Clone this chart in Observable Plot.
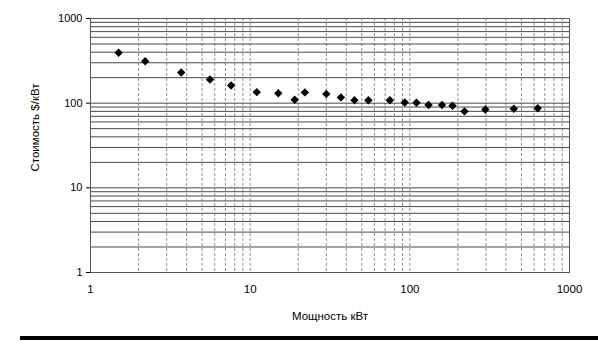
<!DOCTYPE html>
<html>
<head>
<meta charset="utf-8">
<script src="https://cdn.jsdelivr.net/npm/d3@7"></script>
<script src="https://cdn.jsdelivr.net/npm/@observablehq/plot@0.6"></script>
<style>
  html, body { margin: 0; padding: 0; background: #fff; }
  #wrap { position: relative; width: 598px; height: 363px; }
  #bar { position: absolute; left: 20px; right: 0; top: 336px; height: 4px; background: #000; }
</style>
</head>
<body>
<div id="wrap"><div id="bar"></div></div>
<script>
const power = [1.5, 2.2, 3.7, 5.6, 7.6, 11, 15, 19, 22, 30, 37, 45, 55, 75, 93, 110, 131, 159, 185, 220, 297, 448, 632];
const cost  = [393, 313, 230, 190, 162, 135, 131, 110, 134, 128, 117, 108, 108, 108, 102, 101, 95, 95, 93, 80, 84, 86, 87];
const majorTicks = [1, 10, 100, 1000];
const gridLines = [1,2,3,4,5,6,7,8,9,10,20,30,40,50,60,70,80,90,100,200,300,400,500,600,700,800,900,1000];
const xTitle = "Мощность кВт";
const yTitle = "Стоимость $/кВт";

const data = power.map((p, i) => ({power: p, cost: cost[i]}));

const chart = Plot.plot({
  width: 598,
  height: 363,
  marginLeft: 90,
  marginRight: 29,
  marginTop: 18,
  marginBottom: 91,
  style: {fontFamily: "'Liberation Sans', Arial, sans-serif", fontSize: "11px", color: "#000", background: "transparent"},
  x: {type: "log", domain: [1, 1000]},
  y: {type: "log", domain: [1, 1000]},
  marks: [
    Plot.ruleX(gridLines, {stroke: "#777", strokeWidth: 0.8, strokeDasharray: "3,2"}),
    Plot.ruleY(gridLines, {stroke: "#333", strokeWidth: 0.9}),
    Plot.frame({stroke: "#555", strokeWidth: 1}),
    Plot.axisX({ticks: majorTicks, tickFormat: d => String(d), tickSize: 0, tickPadding: 12,
      label: xTitle, labelAnchor: "center", labelArrow: "none", labelOffset: 47, fontSize: 11.5}),
    Plot.axisY({ticks: majorTicks, tickFormat: d => String(d), tickSize: 4, tickPadding: 4, label: null, fontSize: 11}),
    Plot.text([yTitle], {frameAnchor: "left", text: d => d, rotate: -90, dx: -55, dy: -18,
      textAnchor: "middle", fontSize: 11.5, fill: "#000"}),
    Plot.dot(data, {x: "power", y: "cost", symbol: "diamond2", r: 3.8, fill: "#000", stroke: "none"})
  ]
});
document.getElementById("wrap").prepend(chart);
</script>
</body>
</html>
